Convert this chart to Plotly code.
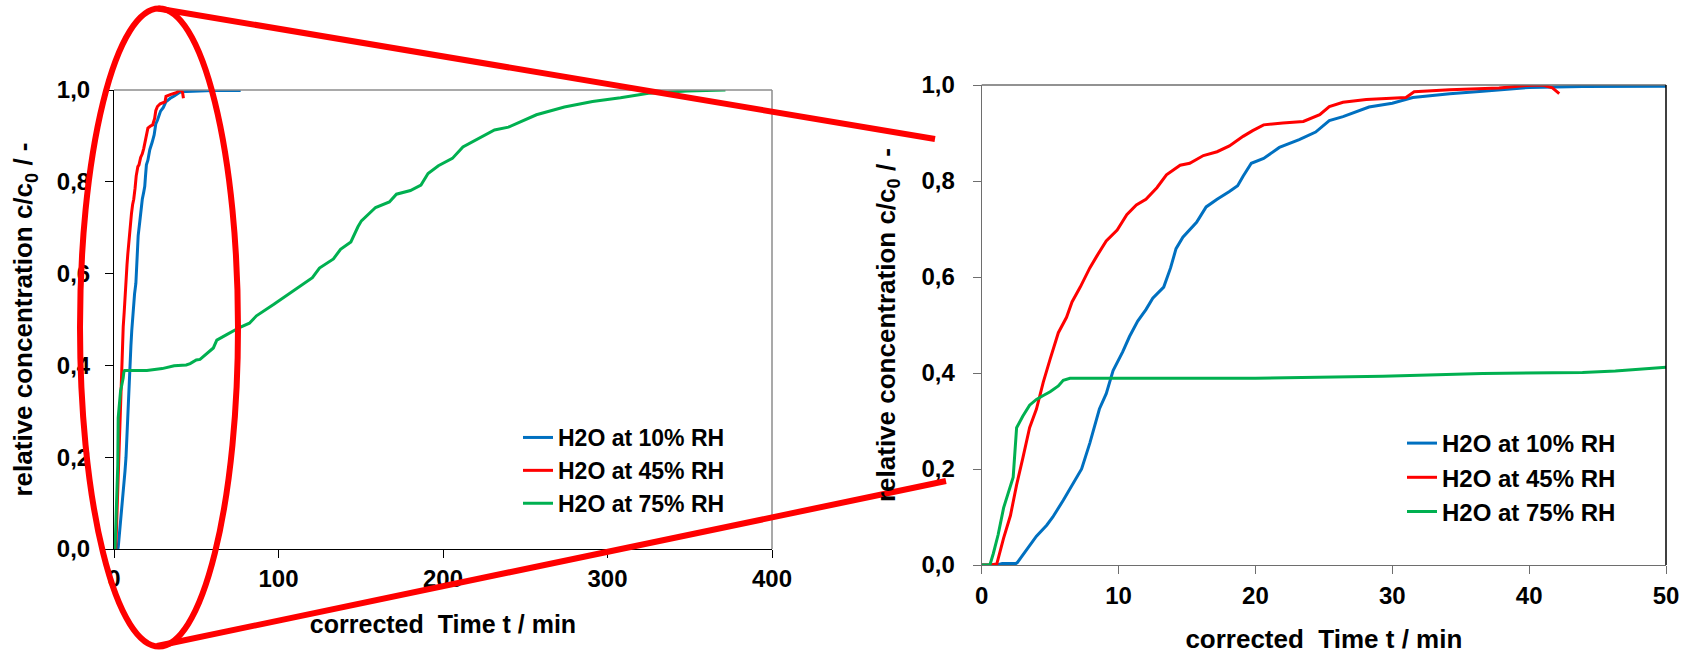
import plotly.graph_objects as go

# ---------- data (time in min, c/c0) ----------
time_10 = [0, 1.1, 1.5, 2.5, 2.6, 3.3, 4.0, 4.75, 5.2, 5.96, 6.7, 7.3, 7.9, 8.6, 9.1,
           9.6, 10.3, 10.8, 11.4, 12.0, 12.5, 13.3, 13.8, 14.2, 14.7, 15.7, 16.4,
           17.2, 18.1, 18.7, 19.1, 19.7, 20.6, 21.75, 23.2, 24.4, 25.4, 26.4, 28.3,
           30.0, 31.5, 34.2, 36.6, 40.0, 43.9, 50.0, 60, 70, 77]
conc_10 = [0, 0, 0.003, 0.003, 0.005, 0.032, 0.06, 0.083, 0.1, 0.135, 0.17, 0.2,
           0.254, 0.325, 0.357, 0.405, 0.444, 0.476, 0.508, 0.532, 0.556, 0.579,
           0.619, 0.659, 0.683, 0.714, 0.746, 0.762, 0.778, 0.79, 0.81, 0.837,
           0.847, 0.87, 0.886, 0.902, 0.926, 0.934, 0.954, 0.962, 0.974, 0.982,
           0.987, 0.995, 0.997, 0.998, 0.999, 0.999, 0.999]

time_45 = [0, 0.6, 1.1, 1.6, 2.1, 2.55, 3.0, 3.5, 4.0, 4.5, 5.0, 5.6, 6.2, 6.6, 7.2,
           7.9, 8.4, 9.1, 9.9, 10.6, 11.3, 12.0, 12.8, 13.5, 14.5, 15.2, 16.2, 17.2,
           18.1, 19.1, 19.8, 20.6, 22.0, 23.5, 24.7, 25.4, 26.4, 28.1, 31.0, 31.6,
           34.2, 37.8, 39.8, 41.0, 41.7, 42.2]
conc_45 = [0, 0, 0.002, 0.056, 0.103, 0.167, 0.222, 0.286, 0.325, 0.381, 0.429,
           0.484, 0.516, 0.548, 0.579, 0.619, 0.643, 0.675, 0.698, 0.73, 0.75, 0.762,
           0.786, 0.813, 0.833, 0.837, 0.853, 0.861, 0.873, 0.893, 0.905, 0.917,
           0.921, 0.924, 0.938, 0.955, 0.964, 0.97, 0.974, 0.986, 0.99, 0.994,
           0.999, 1.0, 0.994, 0.982]

time_75 = [0, 0.6, 0.85, 1.2, 1.6, 1.95, 2.3, 2.55, 3.0, 3.5, 4.0, 4.5, 5.0, 5.6,
           5.96, 6.45, 10, 20, 29.3, 36.6, 43.9, 46.3, 50, 52.3, 60.4, 62.5, 68.5,
           76.6, 82.3, 86.6, 97.2, 105.7, 112.1, 120.6, 124.9, 133.4, 137.7, 144.0,
           148.3, 150.4, 159.0, 167.4, 171.7, 180.2, 186.6, 190.9, 197.2, 205.7,
           212.1, 220.6, 231.3, 239.8, 256.8, 273.8, 290.9, 307.9, 324.9, 348.3, 371.7]
conc_75 = [0, 0, 0.024, 0.063, 0.119, 0.151, 0.183, 0.286, 0.31, 0.333, 0.345,
           0.353, 0.361, 0.373, 0.385, 0.389, 0.389, 0.389, 0.393, 0.399, 0.401,
           0.404, 0.412, 0.413, 0.438, 0.455, 0.467, 0.483, 0.492, 0.508, 0.533,
           0.554, 0.570, 0.591, 0.612, 0.632, 0.653, 0.669, 0.702, 0.715, 0.744,
           0.756, 0.773, 0.781, 0.793, 0.818, 0.835, 0.851, 0.876, 0.893, 0.913,
           0.919, 0.946, 0.963, 0.975, 0.983, 0.993, 0.998, 1.0]

series_names = ["H2O at 10% RH", "H2O at 45% RH", "H2O at 75% RH"]
series_colors = ["#0070C0", "#FF0000", "#00B050"]

x_ticks_full = [0, 100, 200, 300, 400]
x_ticks_zoom = [0, 10, 20, 30, 40, 50]
y_ticks = [0, 0.2, 0.4, 0.6, 0.8, 1.0]

W, H = 1695, 654
FONT = "Liberation Sans, Arial, sans-serif"


def px(x):
    return x / W


def py(y):
    return 1 - y / H


def bold(size):
    return dict(family=FONT, size=size, color="black", weight="bold")


fig = go.Figure()

series = [(time_10, conc_10), (time_45, conc_45), (time_75, conc_75)]
for (t, c), name, col in zip(series, series_names, series_colors):
    fig.add_trace(go.Scatter(x=t, y=c, mode="lines", name=name,
                             line=dict(color=col, width=3),
                             xaxis="x", yaxis="y", legend="legend"))
for (t, c), name, col in zip(series, series_names, series_colors):
    fig.add_trace(go.Scatter(x=t, y=c, mode="lines", name=name,
                             line=dict(color=col, width=3),
                             xaxis="x2", yaxis="y2", legend="legend2"))

axis_common = dict(
    showgrid=False, zeroline=False, showline=True,
    ticks="outside", ticklen=8, tickwidth=1,
    tickfont=bold(24),
    automargin=False,
)

title_x = "corrected\u00a0 Time t / min"
title_y = "relative concentration c/c<sub>0</sub> / -"

fig.update_layout(
    width=W, height=H,
    margin=dict(l=0, r=0, t=0, b=0),
    paper_bgcolor="white", plot_bgcolor="white",
    separators=",.",
    font=dict(family=FONT, color="black"),
    xaxis=dict(axis_common, domain=[px(114), px(772)], range=[0, 400],
               tickvals=x_ticks_full, linecolor="black", tickcolor="black",
               title=dict(text=title_x, standoff=24, font=bold(25)), anchor="y"),
    yaxis=dict(axis_common, domain=[py(549), py(90)], range=[0, 1],
               tickvals=y_ticks, tickformat=".1f", linecolor="black",
               tickcolor="black", ticklabelstandoff=10,
               title=dict(text=title_y, standoff=16, font=bold(26)), anchor="x"),
    xaxis2=dict(axis_common, domain=[px(981.7), px(1666)], range=[0, 50],
                tickvals=x_ticks_zoom, linecolor="#6E6E6E", tickcolor="#6E6E6E",
                ticklabelstandoff=1,
                title=dict(text=title_x, standoff=22, font=bold(26)), anchor="y2"),
    yaxis2=dict(axis_common, domain=[py(565), py(85)], range=[0, 1],
                tickvals=y_ticks, tickformat=".1f", linecolor="#6E6E6E",
                tickcolor="#6E6E6E", ticklabelstandoff=13,
                title=dict(text=title_y, standoff=18, font=bold(26)),
                anchor="x2"),
    legend=dict(x=px(518), y=py(416), xanchor="left", yanchor="top",
                bgcolor="rgba(0,0,0,0)", itemwidth=30, tracegroupgap=0,
                font=bold(23)),
    legend2=dict(x=px(1402), y=py(421), xanchor="left", yanchor="top",
                 bgcolor="rgba(0,0,0,0)", itemwidth=30, tracegroupgap=0,
                 font=bold(24)),
)

# plot-area borders (top/right) as in the spreadsheet original
shapes = [
    dict(type="line", xref="x domain", yref="y domain", x0=0, x1=1, y0=1, y1=1,
         line=dict(color="#8C8C8C", width=1.5)),
    dict(type="line", xref="x domain", yref="y domain", x0=1, x1=1, y0=0, y1=1,
         line=dict(color="#8C8C8C", width=1.5)),
    dict(type="line", xref="x2 domain", yref="y2 domain", x0=0, x1=1, y0=1, y1=1,
         line=dict(color="#6E6E6E", width=1.5)),
    dict(type="line", xref="x2 domain", yref="y2 domain", x0=1, x1=1, y0=0, y1=1,
         line=dict(color="black", width=1.5)),
]

# red "magnifier" overlay: ellipse round the early part + two connector lines
red = dict(color="#FF0000", width=6)
shapes += [
    dict(type="circle", xref="paper", yref="paper", layer="above",
         x0=px(80), x1=px(238), y0=py(646.5), y1=py(8.5), line=red),
    dict(type="line", xref="paper", yref="paper", layer="above",
         x0=px(158), y0=py(8.5), x1=px(935), y1=py(139), line=red),
    dict(type="line", xref="paper", yref="paper", layer="above",
         x0=px(157), y0=py(646), x1=px(946), y1=py(481), line=red),
]
fig.update_layout(shapes=shapes)

# the page's default 8px body margin would shift the whole figure
fig.write_html("out.html", config={"displayModeBar": False},
               post_script="document.body.style.margin='0';")
